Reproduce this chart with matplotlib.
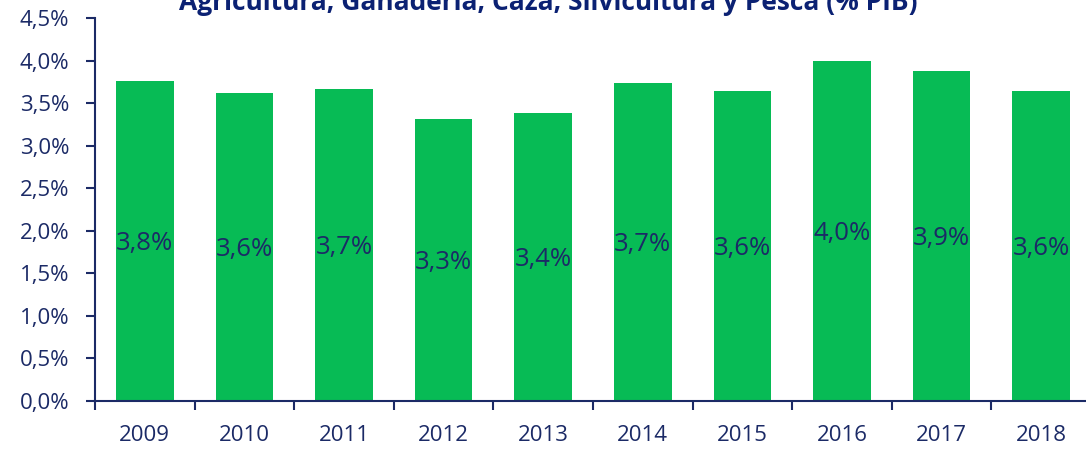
import matplotlib.pyplot as plt
import numpy as np

years = ["2009", "2010", "2011", "2012", "2013", "2014", "2015", "2016", "2017", "2018"]
values = [3.76, 3.62, 3.67, 3.31, 3.38, 3.74, 3.64, 4.00, 3.88, 3.64]
labels = ["3,8%", "3,6%", "3,7%", "3,3%", "3,4%", "3,7%", "3,6%", "4,0%", "3,9%", "3,6%"]
yticks = [0, 0.5, 1.0, 1.5, 2.0, 2.5, 3.0, 3.5, 4.0, 4.5]
ytick_labels = ["0,0%", "0,5%", "1,0%", "1,5%", "2,0%", "2,5%", "3,0%", "3,5%", "4,0%", "4,5%"]
title = "Agricultura, Ganadería, Caza, Silvicultura y Pesca (% PIB)"

navy = "#1b2a66"
green = "#07bb55"
plt.rcParams["font.family"] = ["Open Sans", "DejaVu Sans"]

W, H = 1086, 449
fig = plt.figure(figsize=(W / 100, H / 100), dpi=100)
ax = fig.add_axes([95 / W, 48 / H, 996 / W, 383 / H])

x = np.arange(len(years))
ax.bar(x, values, width=0.58, color=green)
for xi, v, lab in zip(x, values, labels):
    ax.text(xi, v / 2 - 0.03, lab, ha="center", va="center", fontsize=18.5, color=navy)

ax.set_xlim(-0.5, len(years) - 0.5)
ax.set_ylim(0, 4.5)
ax.set_yticks(yticks)
ax.set_yticklabels(ytick_labels)
ax.set_xticks(x)
ax.set_xticklabels(years)
ax.set_xticks(np.arange(len(years) + 1) - 0.5, minor=True)
ax.tick_params(axis="x", which="major", length=0, pad=17, labelsize=16, labelcolor=navy)
ax.tick_params(axis="x", which="minor", length=6.5, width=1.5, color=navy, direction="out")
ax.tick_params(axis="y", length=6.5, width=1.5, color=navy, pad=12, labelsize=16, labelcolor=navy)

for s in ["top", "right"]:
    ax.spines[s].set_visible(False)
for s in ["left", "bottom"]:
    ax.spines[s].set_color(navy)
    ax.spines[s].set_linewidth(1.5)

fig.text(548 / W, 1 - 10 / H, title, ha="center", va="baseline",
         fontsize=19, fontweight="bold", color="#0b2173")

fig.savefig("out.png", dpi=100)
